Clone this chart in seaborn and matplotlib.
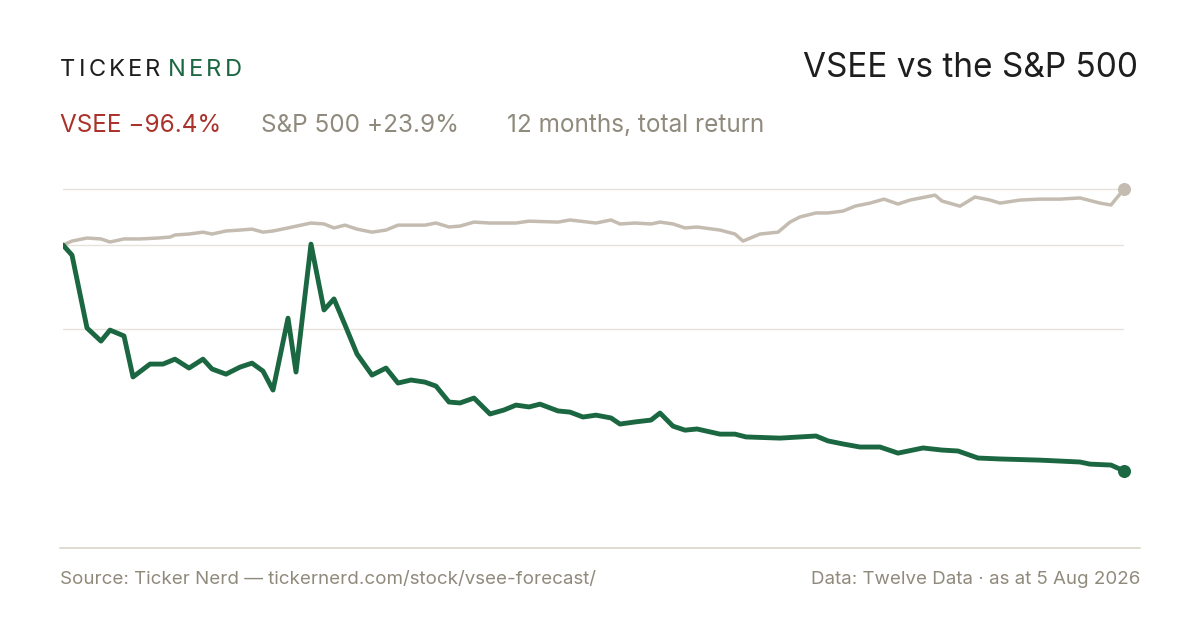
import matplotlib
matplotlib.use("Agg")
import matplotlib.pyplot as plt
import seaborn as sns
import pandas as pd

# index value (start = 100), x = position along the 12 months
vsee_x = [0, 9, 24, 38, 47, 61, 70, 87, 100, 112, 126, 140, 149, 163, 177, 189, 200, 210, 225, 233,
          248, 261, 271, 282, 294, 309, 323, 335, 348, 362, 373, 386, 397, 411, 427, 441, 453, 466,
          477, 495, 507, 520, 533, 548, 557, 572, 588, 597, 610, 622, 634, 657, 672, 683, 717, 737,
          753, 765, 780, 797, 817, 835, 860, 879, 895, 915, 937, 977, 997, 1017, 1027, 1048, 1061]
vsee = [100, 95.7, 64.6, 59.0, 63.7, 61.2, 43.7, 49.2, 49.2, 51.3, 47.5, 51.3, 47.1, 44.9, 47.9,
        49.6, 46.2, 38.1, 68.8, 45.8, 100.4, 72.3, 77.0, 65.9, 53.5, 44.5, 47.5, 41.1, 42.4, 41.5,
        39.8, 33.0, 32.6, 34.7, 27.9, 29.6, 31.7, 30.9, 32.1, 29.2, 28.7, 26.6, 27.4, 26.2, 23.6,
        24.5, 25.3, 28.3, 22.7, 21.0, 21.5, 19.3, 19.3, 18.1, 17.6, 18.1, 18.5, 16.4, 15.1, 13.8,
        13.8, 11.2, 13.4, 12.5, 12.1, 9.1, 8.7, 8.2, 7.8, 7.4, 6.5, 6.1, 3.6]

spx_x = [0, 9, 24, 38, 47, 61, 77, 95, 107, 112, 126, 140, 149, 163, 177, 189, 200, 210, 225, 248,
         261, 271, 282, 294, 309, 323, 335, 362, 373, 386, 397, 411, 427, 453, 466, 495, 507, 533,
         548, 557, 572, 588, 597, 610, 622, 634, 657, 672, 680, 697, 715, 727, 737, 753, 765, 780,
         792, 807, 821, 835, 847, 872, 879, 897, 912, 927, 937, 957, 977, 997, 1017, 1037, 1048, 1061]
spx = [100, 101.7, 103.0, 102.6, 101.3, 102.6, 102.6, 103.0, 103.4, 104.3, 104.7, 105.5, 104.7,
       106.0, 106.4, 106.8, 105.5, 106.0, 107.3, 109.4, 109.0, 107.3, 108.5, 106.8, 105.5, 106.4,
       108.5, 108.5, 109.4, 107.7, 108.1, 109.8, 109.4, 109.4, 110.2, 109.8, 110.7, 109.4, 110.7,
       109.0, 109.4, 109.0, 109.8, 109.0, 107.3, 107.7, 106.4, 104.7, 101.7, 104.7, 105.5, 109.8,
       112.0, 113.7, 113.7, 114.5, 116.6, 117.9, 119.6, 117.5, 119.2, 121.3, 118.8, 116.6, 120.5,
       119.2, 117.9, 119.2, 119.6, 119.6, 120.1, 117.9, 117.1, 123.9]
gridlines = [123.9, 100, 64.1]

GREEN = "#1b6741"
RED = "#a9332c"
GREY_TXT = "#8f8a7c"
SPX_COL = "#c4bcb1"

sns.set_style("white")
plt.rcParams['font.family'] = ['Inter', 'DejaVu Sans']

fig = plt.figure(figsize=(12, 6.3), dpi=100)
ax = fig.add_axes([63 / 1200, 1 - 548 / 630, 1061 / 1200, 388 / 630])
for g in gridlines:
    ax.axhline(g, color="#e6e3dc", lw=1, zorder=0)

df_spx = pd.DataFrame({"x": spx_x, "v": spx})
df_vsee = pd.DataFrame({"x": vsee_x, "v": vsee})
sns.lineplot(data=df_spx, x="x", y="v", ax=ax, color=SPX_COL, lw=2.5)
sns.lineplot(data=df_vsee, x="x", y="v", ax=ax, color=GREEN, lw=3.5)
ax.scatter([spx_x[-1]], [spx[-1]], color=SPX_COL, s=70, zorder=5, clip_on=False)
ax.scatter([vsee_x[-1]], [vsee[-1]], color=GREEN, s=70, zorder=5, clip_on=False)

ax.set_xlim(0, 1061)
ax.set_ylim(-29.3, 136.3)
ax.axis("off")

# bottom rule
fig.add_artist(plt.Line2D([60 / 1200, 1140 / 1200], [1 - 548 / 630] * 2, color="#d9d5cc", lw=1.2))

# logo with letter spacing
renderer = fig.canvas.get_renderer()
xpos = 60
for word, col in [("TICKER", "#1e1e1e"), ("NERD", GREEN)]:
    for ch in word:
        t = fig.text(xpos / 1200, 1 - 70 / 630, ch, fontsize=17, color=col, va="center")
        xpos += t.get_window_extent(renderer).width + 3.2
    xpos += 4

fig.text(1138 / 1200, 1 - 68 / 630, "VSEE vs the S&P 500", fontsize=24, color="#1e1e1e",
         ha="right", va="center")
fig.text(60 / 1200, 1 - 125 / 630, "VSEE \u221296.4%", fontsize=17.5, color=RED, va="center")
fig.text(261 / 1200, 1 - 125 / 630, "S&P 500 +23.9%", fontsize=17.5, color=GREY_TXT, va="center")
fig.text(507 / 1200, 1 - 125 / 630, "12 months, total return", fontsize=17.5, color=GREY_TXT,
         va="center")

# footer
fig.text(60 / 1200, 1 - 580 / 630, "Source: Ticker Nerd \u2014 tickernerd.com/stock/vsee-forecast/",
         fontsize=13.5, color=GREY_TXT, va="center")
fig.text(1140 / 1200, 1 - 580 / 630, "Data: Twelve Data \u00b7 as at 5 Aug 2026",
         fontsize=13.5, color=GREY_TXT, va="center", ha="right")

fig.savefig("out.png", dpi=100)
